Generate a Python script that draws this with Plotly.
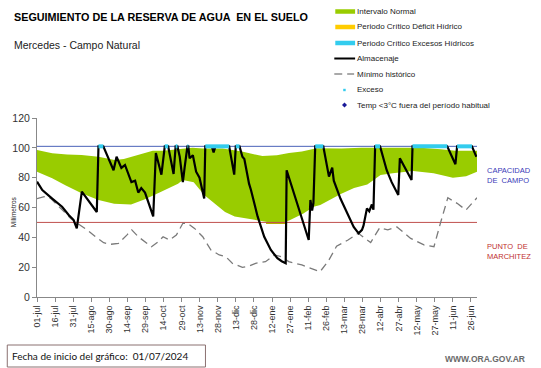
import plotly.graph_objects as go

# ---------------- data (x = days since 01-jul-2024) ----------------
tick_days = [0, 15, 30, 45, 60, 75, 90, 105, 120, 135, 150, 165, 180, 195, 210,
             225, 240, 255, 270, 285, 300, 315, 330, 345, 360]
tick_labels = ["01-jul", "16-jul", "31-jul", "15-ago", "30-ago", "14-sep", "29-sep",
               "14-oct", "29-oct", "13-nov", "28-nov", "13-dic", "28-dic", "12-ene",
               "27-ene", "11-feb", "26-feb", "13-mar", "28-mar", "12-abr", "27-abr",
               "12-may", "27-may", "11-jun", "26-jun"]

# Intervalo normal (band)
up_days = [0, 12.6, 25, 37, 51, 64.4, 72, 78, 96, 104.6, 117, 129, 137.5, 154, 170,
           187, 199, 209, 219.7, 232, 252.5, 269, 302, 318, 335, 347, 365]
up_vals = [98.5, 96.3, 95.5, 95.2, 94, 91.8, 92.5, 94, 98, 98, 99, 100, 99.5, 99.5,
           97.5, 94.5, 95, 96.5, 97.5, 99.7, 99.5, 100, 100, 100, 99, 98, 98]
lo_days = [0, 12.6, 23.5, 37, 51, 64, 78, 89.6, 103, 117, 121, 130, 138.7, 147, 156,
           164, 172, 188.5, 197, 203.5, 210, 221, 229.5, 235, 252, 263, 274, 285,
           295, 312, 329, 345, 356, 365]
lo_vals = [84, 79.6, 75, 69.5, 65, 62.5, 62, 65.5, 70.6, 76, 78.4, 77, 68.4, 62.8, 57,
           54, 53, 50.5, 49.4, 49.4, 51.6, 56, 60.5, 61.7, 69, 73, 75.5, 81.8,
           83, 84.5, 83, 80, 81, 84]

# Periodo critico deficit hidrico
def_days = [190, 207]
def_vals = [49.6, 49.6]

# Almacenaje
alm_days = [0, 4.4, 12.6, 20.8, 26.3, 30.4, 33, 34.5, 37.2, 49.6, 51, 55, 56.4, 59.4,
            63.5, 66, 70, 73, 78.3, 81.4, 84, 86.5, 89.6, 96.4, 98.6, 103.2, 106,
            108.8, 113.3, 115, 116.5, 118.4, 121, 122.5, 124.8, 125.5, 126.6, 129.3,
            132, 134.8, 138.7, 139.6, 145, 146.5, 148, 159.4, 163.6, 164.9, 168,
            170.4, 172, 175.9, 177.5, 183, 188.5, 194, 199.4, 203, 206.3, 207.1,
            225.4, 226.8, 228.2, 229.3, 230.8, 237.5, 239.4, 242.2, 244.9, 246.2,
            251.7, 257.3, 262.7, 266.8, 269.6, 270.9, 273.7, 275.6, 277.8, 279.1,
            280.5, 284.6, 290.1, 294.2, 299.7, 301, 305.2, 310.7, 311.5, 340.3,
            347.1, 348.5, 360.8, 364.5]
alm_vals = [77.3, 71.7, 66, 60.5, 55, 51.6, 46, 54, 70.6, 57, 101, 101, 98.5, 92,
            85, 94, 86.5, 88.5, 77, 78, 70, 73, 70, 54, 96.5, 82, 101,
            101, 82.5, 101, 101, 94, 77, 87, 101, 101, 93, 95,
            84, 80, 66, 101, 101, 97, 101, 101, 82, 101, 101,
            94, 92.5, 76, 71.7, 54, 40.4, 31.5, 26, 24, 22.6, 85,
            38.2, 65, 58, 63, 101, 101, 92, 80.7, 86.7, 78,
            66, 56, 47, 42.7, 45, 48, 59.4, 57.5, 62, 58.5,
            101, 101, 85, 77, 68.4, 93, 86.6, 78.4, 101, 101,
            89, 101, 101, 94]

# Minimo historico
min_days = [0, 6, 11.5, 17, 22.4, 28, 33.4, 41.6, 48.5, 55.3, 60.8, 67.6, 74.5, 78.6,
            84, 89.6, 95, 100.5, 104.6, 110, 115.6, 121, 125, 130.7, 137.5, 144.3,
            151.2, 156.7, 162, 170.4, 176, 181.3, 189.5, 197, 203, 208.8, 219.7,
            234.8, 241.6, 248.5, 258, 266.5, 276.8, 284.3, 291, 298.6, 310, 321,
            329.3, 335, 340.8, 348.5, 355.8, 365]
min_vals = [66, 67.3, 66, 61.7, 57.2, 52.7, 49.4, 45, 40.4, 36.4, 35.3, 36, 41.5, 45,
            40.4, 37, 33.7, 37, 40.4, 38.2, 41.5, 49.4, 49.4, 46, 40.4, 31.5,
            28.2, 27, 22.6, 19.9, 20.8, 22.6, 23.7, 28.2, 27, 23.7, 21.5,
            17, 24, 34, 38.2, 42.7, 36.5, 46.5, 45, 47, 39.3, 34.9,
            33.7, 50.5, 66.5, 62.8, 58.3, 66.5]

# Exceso (periods at field capacity)
exc_start = [51, 106, 115, 124.8, 139.6, 164.9, 230.8, 280.5, 311.5, 348.5]
exc_end = [55, 108.8, 116.5, 125.5, 159.4, 168, 237.5, 284.6, 340.3, 360.8]

cap_campo = 101
marchitez = 50

# ---------------- styling ----------------
GREEN = "#99cc00"
YELLOW = "#ffcc00"
CYAN = "#33ccee"
GRAY = "#7a7a7a"
BLUE_LINE = "#4a62b8"
RED_LINE = "#c0504d"
FONT = "Liberation Sans, Arial, sans-serif"

W, H = 541, 368
L, R, T, B = 33, 477, 118, 297


def xp(px):
    return (px - L) / (R - L)


def yp(py):
    return (B - py) / (B - T)


fig = go.Figure()

fig.add_trace(go.Scatter(x=lo_days, y=lo_vals, mode="lines", line=dict(width=0, color=GREEN),
                         showlegend=False, hoverinfo="skip"))
fig.add_trace(go.Scatter(x=up_days, y=up_vals, mode="lines", line=dict(width=0, color=GREEN),
                         fill="tonexty", fillcolor=GREEN, showlegend=False, name="Intervalo Normal"))
fig.add_trace(go.Scatter(x=def_days, y=def_vals, mode="lines", line=dict(width=2, color="#b8a800"),
                         showlegend=False))
fig.add_trace(go.Scatter(x=[0, 365], y=[cap_campo, cap_campo], mode="lines",
                         line=dict(width=1, color=BLUE_LINE), showlegend=False))
fig.add_trace(go.Scatter(x=[0, 365], y=[marchitez, marchitez], mode="lines",
                         line=dict(width=1, color=RED_LINE), showlegend=False))
fig.add_trace(go.Scatter(x=min_days, y=min_vals, mode="lines",
                         line=dict(width=1.3, color=GRAY, dash="8px,5px"),
                         showlegend=False, name="Mínimo histórico"))
fig.add_trace(go.Scatter(x=alm_days, y=alm_vals, mode="lines",
                         line=dict(width=2.2, color="black"), showlegend=False, name="Almacenaje"))

ex_x, ex_y = [], []
for s, e in zip(exc_start, exc_end):
    ex_x += [s, e, None]
    ex_y += [cap_campo, cap_campo, None]
fig.add_trace(go.Scatter(x=ex_x, y=ex_y, mode="lines", line=dict(width=4, color=CYAN),
                         showlegend=False, name="Exceso"))

# ---------------- manual legend ----------------
legend_items = [
    ("Intervalo Normal", "bar", GREEN),
    ("Periodo Crítico Déficit Hídrico", "bar", YELLOW),
    ("Periodo Crítico Excesos Hídricos", "bar", CYAN),
    ("Almacenaje", "line", "black"),
    ("Mínimo histórico", "dash", GRAY),
    ("Exceso", "dot", CYAN),
    ("Temp <3°C fuera del período habitual", "diamond", "#1a1a99"),
]
row_y = [11.5, 27, 43, 58.5, 74, 90, 105]
shapes = []
annotations = []
for (name, kind, col), ry in zip(legend_items, row_y):
    if kind == "bar":
        shapes.append(dict(type="line", xref="paper", yref="paper", x0=xp(334), x1=xp(354),
                           y0=yp(ry), y1=yp(ry), line=dict(color=col, width=4.5)))
    elif kind == "line":
        shapes.append(dict(type="line", xref="paper", yref="paper", x0=xp(333), x1=xp(354),
                           y0=yp(ry), y1=yp(ry), line=dict(color=col, width=2)))
    elif kind == "dash":
        shapes.append(dict(type="line", xref="paper", yref="paper", x0=xp(333), x1=xp(341),
                           y0=yp(ry), y1=yp(ry), line=dict(color=col, width=1.3)))
        shapes.append(dict(type="line", xref="paper", yref="paper", x0=xp(346), x1=xp(353),
                           y0=yp(ry), y1=yp(ry), line=dict(color=col, width=1.3)))
    elif kind == "dot":
        shapes.append(dict(type="rect", xref="paper", yref="paper", x0=xp(342), x1=xp(344.5),
                           y0=yp(ry + 1.2), y1=yp(ry - 1.2), line=dict(width=0), fillcolor=col))
    elif kind == "diamond":
        cx, cy = 343.3, ry
        path = "M {} {} L {} {} L {} {} L {} {} Z".format(
            xp(cx), yp(cy - 2.5), xp(cx + 2.5), yp(cy), xp(cx), yp(cy + 2.5), xp(cx - 2.5), yp(cy))
        shapes.append(dict(type="path", xref="paper", yref="paper", path=path,
                           line=dict(width=0), fillcolor=col))
    annotations.append(dict(text=name, xref="paper", yref="paper", x=xp(354), y=yp(ry),
                            xanchor="left", yanchor="middle", showarrow=False,
                            font=dict(family=FONT, size=8, color="#222222")))

# Titles
annotations.append(dict(text="<b>SEGUIMIENTO DE LA RESERVA DE AGUA  EN EL SUELO</b>",
                        xref="paper", yref="paper", x=xp(8), y=yp(17), xanchor="left",
                        yanchor="middle", showarrow=False,
                        font=dict(family=FONT, size=10.8, color="black")))
annotations.append(dict(text="Mercedes - Campo Natural", xref="paper", yref="paper",
                        x=xp(8), y=yp(45), xanchor="left", yanchor="middle", showarrow=False,
                        font=dict(family=FONT, size=10.5, color="#222222")))
# Axis title
annotations.append(dict(text="Milímetros", xref="paper", yref="paper", x=xp(9), y=yp(212),
                        xanchor="center", yanchor="middle", showarrow=False, textangle=-90,
                        font=dict(family=FONT, size=6.5, color="#222222")))
# Right labels
annotations.append(dict(text="CAPACIDAD<br>DE  CAMPO", xref="paper", yref="paper", x=xp(485),
                        y=yp(175), xanchor="left", yanchor="middle", showarrow=False, align="left",
                        font=dict(family=FONT, size=7.5, color="#3a3ab8")))
annotations.append(dict(text="PUNTO  DE<br>MARCHITEZ", xref="paper", yref="paper", x=xp(485),
                        y=yp(251), xanchor="left", yanchor="middle", showarrow=False, align="left",
                        font=dict(family=FONT, size=7.5, color="#c03030")))
# Footer
shapes.append(dict(type="rect", xref="paper", yref="paper", x0=xp(3), x1=xp(203),
                   y0=yp(345), y1=yp(367), line=dict(color="#8a7070", width=1),
                   fillcolor="white"))
annotations.append(dict(text="Fecha de inicio del gráfico:  01/07/2024", xref="paper",
                        yref="paper", x=xp(6), y=yp(356), xanchor="left", yanchor="middle",
                        showarrow=False, font=dict(family="Lato, sans-serif", size=10, color="#111111")))
annotations.append(dict(text="<b>WWW.ORA.GOV.AR</b>", xref="paper", yref="paper", x=xp(527),
                        y=yp(359), xanchor="right", yanchor="middle", showarrow=False,
                        font=dict(family=FONT, size=8.5, color="#6a6a6a")))

fig.update_layout(
    width=W, height=H,
    margin=dict(l=L, r=W - R, t=T, b=H - B, pad=0),
    paper_bgcolor="white", plot_bgcolor="white",
    showlegend=False,
    shapes=shapes, annotations=annotations,
    xaxis=dict(range=[0, 365], tickmode="array", tickvals=tick_days, ticktext=tick_labels,
               tickangle=-90, showgrid=False, zeroline=False, showline=True,
               linecolor="#888888", linewidth=1, ticks="outside", ticklen=4,
               tickcolor="#888888", tickfont=dict(family=FONT, size=9, color="#333333")),
    yaxis=dict(range=[0, 120], dtick=20, showgrid=False, zeroline=False, showline=True,
               linecolor="#888888", linewidth=1, ticks="outside", ticklen=4,
               tickcolor="#888888", tickfont=dict(family=FONT, size=10.5, color="#333333")),
)

fig.write_html("out.html", config={"displayModeBar": False},
               post_script="document.body.style.margin='0px';document.body.style.overflow='hidden';")
